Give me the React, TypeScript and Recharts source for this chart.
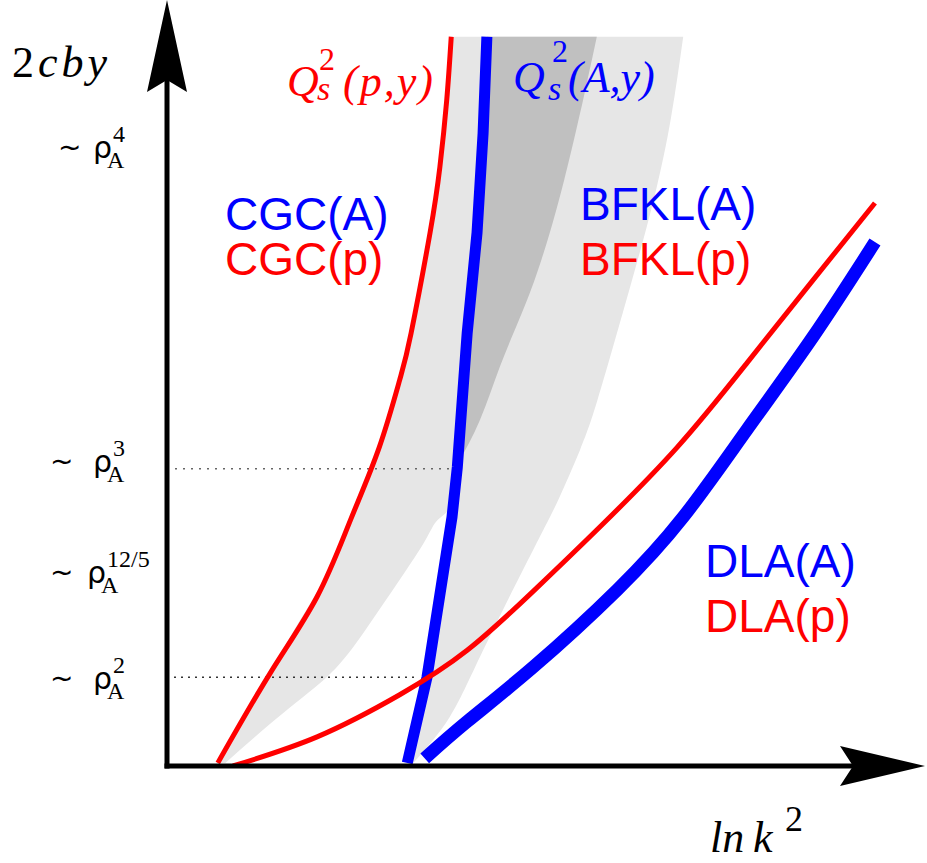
import { Area, ComposedChart, Line, ReferenceLine, XAxis, YAxis } from "recharts";

document.body.style.margin = "0";

const BLUE = "#0000ff";
const RED = "#ff0000";
const LIGHT = "#e6e6e6";
const DARK = "#c0c0c0";

// schematic units: x = ln k^2, y = 2cby, both 0..100 along the axes
const qsProton = [
  { x: 6.7, y: 0.4 },
  { x: 13.6, y: 12.1 },
  { x: 19.8, y: 22.1 },
  { x: 24.2, y: 32.1 },
  { x: 28.0, y: 41.6 },
  { x: 30.7, y: 50.4 },
  { x: 32.2, y: 56.5 },
  { x: 34.7, y: 69.6 },
  { x: 36.0, y: 78.2 },
  { x: 36.9, y: 86.9 },
  { x: 37.5, y: 95.2 },
];

const qsNucleus = [
  { x: 31.7, y: 0.4 },
  { x: 34.3, y: 11.6 },
  { x: 37.6, y: 32.5 },
  { x: 38.3, y: 39.0 },
  { x: 39.6, y: 56.5 },
  { x: 40.9, y: 69.6 },
  { x: 41.7, y: 82.6 },
  { x: 42.2, y: 95.2 },
];

const bfklProton = [
  { x: 8.7, y: 0 },
  { x: 19.8, y: 3.8 },
  { x: 30.7, y: 9.3 },
  { x: 39.6, y: 15.1 },
  { x: 48.3, y: 22.8 },
  { x: 57.1, y: 31.2 },
  { x: 67.3, y: 41.6 },
  { x: 76.5, y: 52.6 },
  { x: 85.2, y: 63.4 },
  { x: 93.4, y: 73.5 },
];

const dlaNucleus = [
  { x: 34.0, y: 1.0 },
  { x: 39.6, y: 5.8 },
  { x: 48.3, y: 12.9 },
  { x: 59.4, y: 23.0 },
  { x: 68.1, y: 32.5 },
  { x: 76.5, y: 43.9 },
  { x: 85.2, y: 56.0 },
  { x: 93.4, y: 68.4 },
];

// shaded bands: [left, right] in x at each y
const cgcBand = [
  { y: 0.4, x: [6.7, 7.7] },
  { y: 6.9, x: [10.6, 15.3] },
  { y: 12.1, x: [13.6, 21.6] },
  { y: 17.8, x: [16.8, 26.2] },
  { y: 24.3, x: [20.7, 30.7] },
  { y: 29.5, x: [23.0, 34.1] },
  { y: 32.1, x: [24.2, 35.7] },
  { y: 34.1, x: [25.1, 37.6] },
  { y: 39.0, x: [27.2, 38.3] },
  { y: 47.8, x: [30.0, 38.9] },
  { y: 60.8, x: [33.0, 40.0] },
  { y: 73.9, x: [35.4, 41.2] },
  { y: 86.9, x: [36.9, 42.0] },
  { y: 95.2, x: [37.5, 42.2] },
];

const bfklBand = [
  { y: 0.4, x: [31.7, 32.5] },
  { y: 6.4, x: [33.0, 37.3] },
  { y: 15.1, x: [34.8, 41.7] },
  { y: 28.2, x: [36.8, 48.3] },
  { y: 34.7, x: [37.8, 51.6] },
  { y: 41.3, x: [38.4, 54.5] },
  { y: 47.8, x: [38.9, 56.8] },
  { y: 60.8, x: [40.0, 60.6] },
  { y: 73.9, x: [41.2, 64.2] },
  { y: 84.7, x: [41.8, 66.5] },
  { y: 95.2, x: [42.2, 68.1] },
];

const overlapBand = [
  { y: 39.3, x: [38.3, 38.3] },
  { y: 45.2, x: [38.8, 41.3] },
  { y: 52.1, x: [39.3, 43.9] },
  { y: 59.1, x: [39.8, 46.8] },
  { y: 66.1, x: [40.5, 49.4] },
  { y: 76.5, x: [41.3, 52.4] },
  { y: 89.2, x: [42.0, 55.4] },
  { y: 95.2, x: [42.2, 56.7] },
];

const TICK_VALUES = [10.1, 23.9, 38.4, 79.4];
const TICK_POWERS = ["2", "12/5", "3", "4"];

function RhoTick(props: any) {
  const { y, payload } = props;
  const power = TICK_POWERS[TICK_VALUES.indexOf(payload.value)] ?? "";
  const rx = power.length > 1 ? 87 : 93;
  return (
    <g>
      <text x={power === "4" ? 58 : 50} y={y - 1} fontFamily="DejaVu Sans" fontSize={28} fill="#000">
        ~
      </text>
      <text x={rx} y={y} fontFamily="DejaVu Sans" fontSize={30} fill="#000">
        ρ
      </text>
      <text x={rx + 14} y={y + 10} fontFamily="Liberation Serif" fontSize={24} fill="#000">
        A
      </text>
      <text x={rx + 20} y={y - 16} fontFamily="Liberation Serif" fontSize={24} fill="#000">
        {power}
      </text>
    </g>
  );
}

const serif = "Liberation Serif";
const sans = "Liberation Sans";

export default function App() {
  return (
    <div style={{ position: "relative", width: 927, height: 863, background: "#fff" }}>
      <ComposedChart
        width={927}
        height={863}
        layout="vertical"
        margin={{ top: 0, right: 2, bottom: 97, left: 0 }}
      >
        <XAxis type="number" domain={[0, 100]} allowDataOverflow hide height={0} />
        <YAxis
          type="number"
          dataKey="y"
          domain={[0, 100]}
          allowDataOverflow
          reversed
          width={167}
          ticks={TICK_VALUES}
          tick={RhoTick}
          tickLine={false}
          axisLine={false}
        />
        <Area data={bfklBand} dataKey="x" type="natural" fill={LIGHT} fillOpacity={1} stroke="none" isAnimationActive={false} />
        <Area data={cgcBand} dataKey="x" type="natural" fill={LIGHT} fillOpacity={1} stroke="none" isAnimationActive={false} />
        <Area data={overlapBand} dataKey="x" type="natural" fill={DARK} fillOpacity={1} stroke="none" isAnimationActive={false} />
        <ReferenceLine
          segment={[{ x: 0, y: 38.8 }, { x: 38.3, y: 38.8 }]}
          stroke="#666"
          strokeWidth={1.5}
          strokeDasharray="2 6"
        />
        <ReferenceLine
          segment={[{ x: 0, y: 11.6 }, { x: 33.1, y: 11.6 }]}
          stroke="#333"
          strokeWidth={1.5}
          strokeDasharray="2 5"
        />
        <Line data={qsNucleus} dataKey="x" type="linear" stroke={BLUE} strokeWidth={11} dot={false} isAnimationActive={false} />
        <Line data={dlaNucleus} dataKey="x" type="natural" stroke={BLUE} strokeWidth={13} dot={false} isAnimationActive={false} />
        <Line data={qsProton} dataKey="x" type="natural" stroke={RED} strokeWidth={5} dot={false} isAnimationActive={false} />
        <Line data={bfklProton} dataKey="x" type="natural" stroke={RED} strokeWidth={5} dot={false} isAnimationActive={false} />
      </ComposedChart>

      <svg width={927} height={863} style={{ position: "absolute", left: 0, top: 0, pointerEvents: "none" }}>
        <line x1={167} y1={80} x2={167} y2={768.5} stroke="#000" strokeWidth={5} />
        <line x1={164.5} y1={766} x2={855} y2={766} stroke="#000" strokeWidth={5} />
        <polygon points="167,0 187,92 167,80 147,92" fill="#000" />
        <polygon points="925,766 840,746 853,766 840,786" fill="#000" />

        <text x={12} y={77} fontFamily={serif} fontSize={44} letterSpacing={4} fill="#000">
          2<tspan fontStyle="italic">cby</tspan>
        </text>

        <text fontFamily={serif} fontStyle="italic" fill={RED}>
          <tspan x={287} y={96} fontSize={44}>Q</tspan>
          <tspan x={319} y={70} fontSize={32} fontStyle="normal">2</tspan>
          <tspan x={317} y={100} fontSize={34}>s</tspan>
          <tspan x={343} y={96} fontSize={44} letterSpacing={2}>(p,y)</tspan>
        </text>

        <text fontFamily={serif} fontStyle="italic" fill={BLUE}>
          <tspan x={513} y={92} fontSize={44}>Q</tspan>
          <tspan x={552} y={62} fontSize={32} fontStyle="normal">2</tspan>
          <tspan x={548} y={100} fontSize={34}>s</tspan>
          <tspan x={568} y={92} fontSize={44}>(A,y)</tspan>
        </text>

        <text fontFamily={sans} fontSize={46}>
          <tspan x={225} y={230} fill={BLUE}>CGC(A)</tspan>
          <tspan x={225} y={275} fill={RED}>CGC(p)</tspan>
          <tspan x={580} y={220} fill={BLUE}>BFKL(A)</tspan>
          <tspan x={580} y={275} fill={RED}>BFKL(p)</tspan>
          <tspan x={705} y={577} fill={BLUE}>DLA(A)</tspan>
          <tspan x={705} y={632} fill={RED}>DLA(p)</tspan>
        </text>

        <text fontFamily={serif} fill="#000">
          <tspan x={710} y={852} fontSize={44} fontStyle="italic">ln</tspan>
          <tspan x={753} y={852} fontSize={44} fontStyle="italic">k</tspan>
          <tspan x={785} y={831} fontSize={36}>2</tspan>
        </text>
      </svg>
    </div>
  );
}
